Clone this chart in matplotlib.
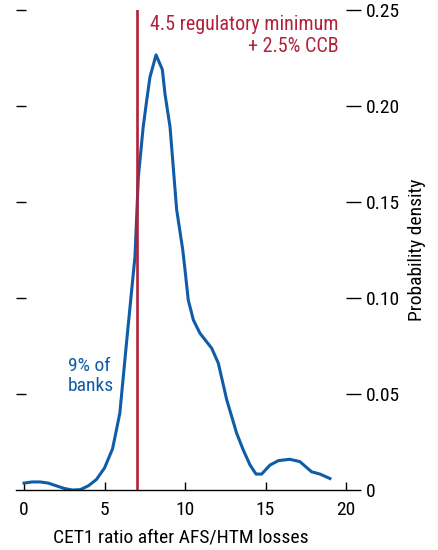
import matplotlib
matplotlib.use("Agg")
import matplotlib.pyplot as plt
from matplotlib import font_manager
from matplotlib.lines import TICKRIGHT

names = sorted({f.name for f in font_manager.fontManager.ttflist})
cands = [n for n in ['Roboto Condensed', 'Liberation Sans Narrow', 'Arial Narrow',
                     'Liberation Sans']
         if n in names]
plt.rcParams['font.family'] = cands + ['DejaVu Sans']

# Data
cet1_ratio = [0.0, 0.5, 1.0, 1.5, 2.0, 2.5, 3.0, 3.5, 4.0, 4.5, 5.0, 5.5, 5.95,
              6.38, 6.89, 7.1, 7.4, 7.62, 7.82, 8.2, 8.59, 8.76, 9.07, 9.48,
              9.86, 10.0, 10.2, 10.52, 10.93, 11.66, 12.07, 12.59, 13.21, 13.62,
              14.04, 14.41, 14.76, 15.28, 15.8, 16.5, 17.13, 17.86, 18.38, 19.0]
density = [0.0036, 0.0042, 0.0042, 0.0036, 0.0022, 0.0008, 0.0000, 0.0002, 0.0022,
           0.0055, 0.0115, 0.0215, 0.040,
           0.078, 0.1215, 0.163, 0.189, 0.203, 0.215, 0.2266, 0.219, 0.206, 0.189, 0.146,
           0.125, 0.1146, 0.099, 0.0885, 0.0816, 0.0738, 0.066, 0.047, 0.0295, 0.0208,
           0.013, 0.0083, 0.0083, 0.013, 0.0153, 0.016, 0.0148, 0.0095, 0.0083, 0.006]
threshold = 7.0
x_ticks = [0, 5, 10, 15, 20]
y_ticks = [0, 0.05, 0.10, 0.15, 0.20, 0.25]
y_ticklabels = ["0", "0.05", "0.10", "0.15", "0.20", "0.25"]

blue = '#0F5DA8'
red = '#B2213A'
fs = 14

fig = plt.figure(figsize=(4.38, 5.5), dpi=100)
ax = fig.add_axes([16/438, 60/550, 330/438, 480/550])

ax.plot(cet1_ratio, density, color=blue, lw=2.2, zorder=2)
ax.axvline(threshold, color=red, lw=1.9, zorder=3)

ax.set_xlim(-0.5, 20)
ax.set_ylim(0, 0.25)

for s in ['left', 'right', 'top']:
    ax.spines[s].set_visible(False)
ax.spines['bottom'].set_linewidth(1.0)

ax.set_xticks(x_ticks)
ax.set_xticklabels([str(v) for v in x_ticks], fontsize=fs)
ax.tick_params(axis='x', direction='in', length=6, width=1.0, pad=8)

ax.set_yticks(y_ticks)
ax.set_yticklabels(y_ticklabels, fontsize=fs)
ax.tick_params(axis='y', which='both', left=True, right=True,
               labelleft=False, labelright=True, width=1.0, pad=11)
for t in ax.yaxis.get_major_ticks():
    t.tick1line.set_marker(TICKRIGHT)   # inward from left edge
    t.tick1line.set_markersize(7)
    t.tick2line.set_marker(TICKRIGHT)   # outward from right edge
    t.tick2line.set_markersize(11)
ax.yaxis.get_major_ticks()[0].tick1line.set_visible(False)

ax.set_xlabel("CET1 ratio after AFS/HTM losses", fontsize=fs, labelpad=7)
fig.text(417/438, 1 - 250/550, "Probability density", rotation=90,
         ha='center', va='center', fontsize=fs)

ax.text(19.55, 0.2475, "4.5 regulatory minimum\n+ 2.5% CCB", color=red,
        ha='right', va='top', fontsize=14.5, linespacing=1.2)
ax.text(2.72, 0.0695, "9% of\nbanks", color=blue, ha='left', va='top',
        fontsize=fs, linespacing=1.15)

fig.savefig("out.png", dpi=100)
